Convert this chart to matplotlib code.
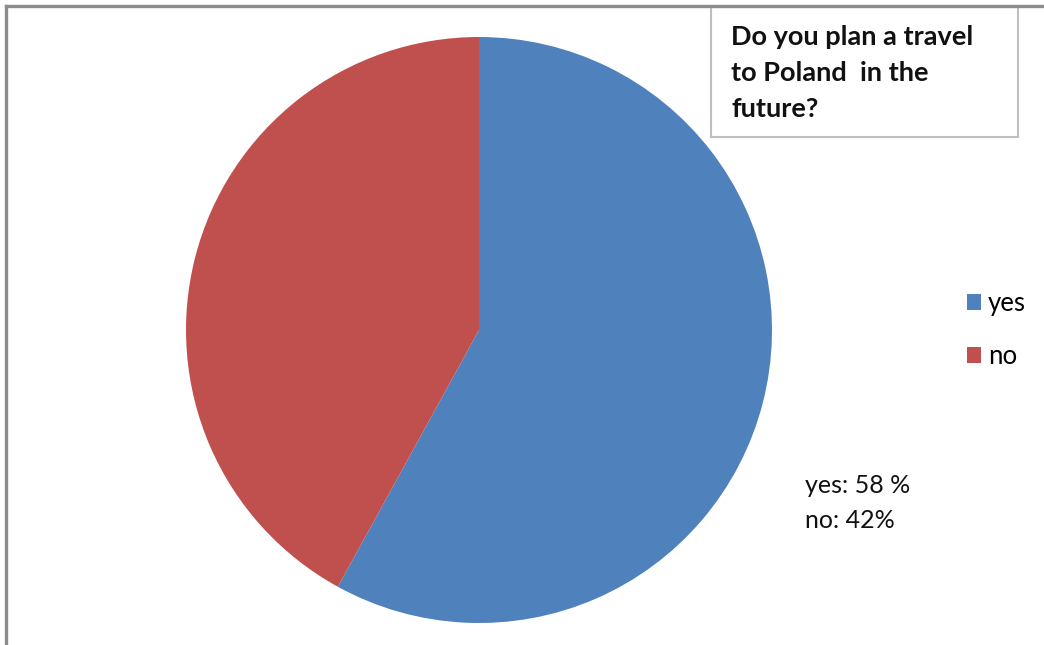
import matplotlib.pyplot as plt
from matplotlib.patches import Rectangle
from matplotlib.lines import Line2D

# Answers and their shares (%)
labels = ['yes', 'no']
values = [58, 42]
colors = ['#4F81BD', '#C0504D']
title = 'Do you plan a travel\nto Poland  in the\nfuture?'

plt.rcParams['font.family'] = ['Lato', 'DejaVu Sans']

W, H = 1044, 645
fig = plt.figure(figsize=(W / 100, H / 100), dpi=100)

def fx(px):
    return px / W

def fy(py):
    return 1 - py / H

# Pie: center (479, 330), radius 293 px
cx, cy, r = 479, 330, 293
ax = fig.add_axes([fx(cx - r), fy(cy + r), 2 * r / W, 2 * r / H])
wedges, _ = ax.pie(values, colors=colors, startangle=90, counterclock=False,
                   radius=1, wedgeprops=dict(linewidth=0))
ax.set_xlim(-1, 1)
ax.set_ylim(-1, 1)
ax.set_aspect('auto')
ax.axis('off')

# Outer chart frame (top and left edges)
frame_kw = dict(color='#8c8c8c', linewidth=2.4, transform=fig.transFigure)
fig.add_artist(Line2D([fx(6), 1], [fy(6), fy(6)], **frame_kw))
fig.add_artist(Line2D([fx(6), fx(6)], [fy(6), 0], **frame_kw))

# Title box
fig.add_artist(Rectangle((fx(711), fy(137)), fx(1018) - fx(711), fy(7) - fy(137),
                         transform=fig.transFigure, facecolor='white',
                         edgecolor='#bfbfbf', linewidth=1.5))
fig.text(fx(731), fy(73), title, fontsize=19.5, fontweight='bold',
         ha='left', va='center', linespacing=1.58, color='#111111')

# Legend
ax.legend(wedges, labels, loc='center left',
          bbox_to_anchor=(fx(944), fy(330)), bbox_transform=fig.transFigure,
          frameon=False, fontsize=18.5, handlelength=0.55, handleheight=0.55,
          handletextpad=0.25, labelspacing=1.1)

# Value summary
summary = '\n'.join(f'{lab}: {v} %' if i == 0 else f'{lab}: {v}%'
                    for i, (lab, v) in enumerate(zip(labels, values)))
fig.text(fx(805), fy(503), summary, fontsize=18, ha='left', va='center',
         linespacing=1.6, color='#111111')

fig.savefig('out.png', dpi=100, facecolor='white')
